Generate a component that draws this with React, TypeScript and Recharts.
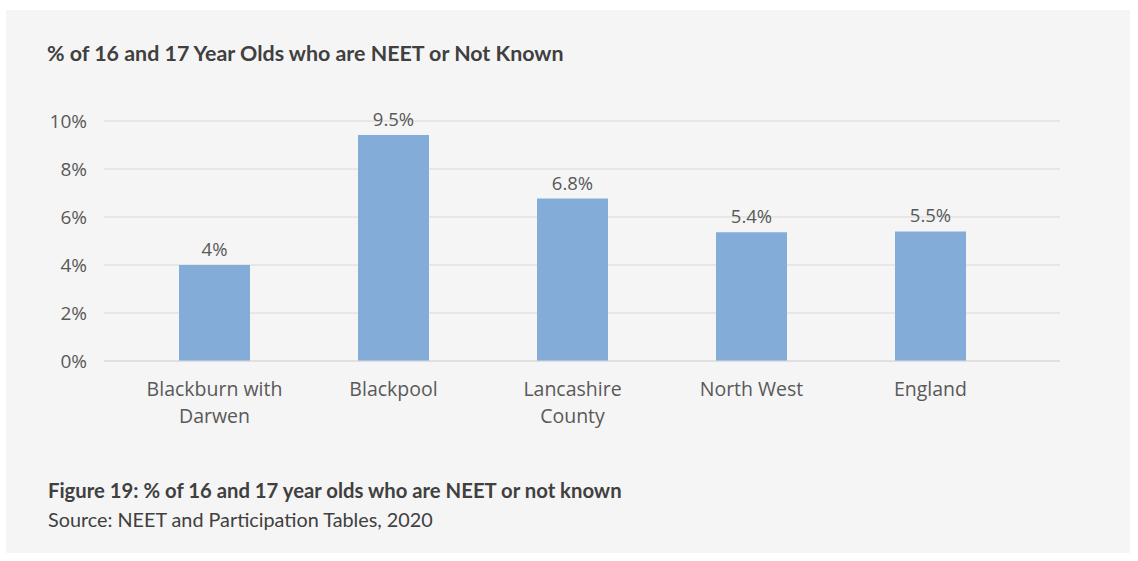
import { BarChart, Bar, XAxis, YAxis, CartesianGrid, LabelList } from "recharts"

const CATEGORIES = ["Blackburn with Darwen", "Blackpool", "Lancashire County", "North West", "England"]
// bar heights
const VALUES = [4.0, 9.42, 6.77, 5.36, 5.4]
// the printed labels
const LABELS = ["4%", "9.5%", "6.8%", "5.4%", "5.5%"]
const Y_TICKS = [0, 2, 4, 6, 8, 10]

const data = CATEGORIES.map((name, i) => ({ name, value: VALUES[i], label: LABELS[i] }))

const TEXT = "#595959"
const TICK_FONT = "'Open Sans', sans-serif"
const HEAD_FONT = "Lato, sans-serif"

function wrap(s: string, max = 14) {
  const lines: string[] = []
  let cur = ""
  for (const w of s.split(" ")) {
    const next = cur ? cur + " " + w : w
    if (next.length > max && cur) {
      lines.push(cur)
      cur = w
    } else {
      cur = next
    }
  }
  if (cur) lines.push(cur)
  return lines
}

function CategoryTick(props: any) {
  const { x, y, payload } = props
  const lines = wrap(payload.value)
  return (
    <text x={x} y={y} textAnchor="middle" fill={TEXT} fontSize={19.5} fontFamily={TICK_FONT}>
      {lines.map((l, i) => (
        <tspan key={i} x={x} dy={i === 0 ? 27 : 27}>
          {l}
        </tspan>
      ))}
    </text>
  )
}

export default function App() {
  return (
    <div style={{ position: "absolute", left: 0, top: 0, width: 1138, height: 561, background: "#fff" }}>
      <div style={{ position: "absolute", left: 6, top: 10, width: 1124, height: 543, background: "#f5f5f5" }} />
      <div
        style={{
          position: "absolute",
          left: 47,
          top: 40,
          fontFamily: HEAD_FONT,
          fontWeight: 700,
          fontSize: 21.4,
          lineHeight: "26px",
          color: "#404040",
          whiteSpace: "nowrap",
        }}
      >
        % of 16 and 17 Year Olds who are NEET or Not Known
      </div>
      <div style={{ position: "absolute", left: 0, top: 0 }}>
        <BarChart
          width={1138}
          height={561}
          data={data}
          margin={{ top: 121, right: 78, bottom: 140, left: 44 }}
        >
          <CartesianGrid vertical={false} stroke="#d9d9d9" strokeWidth={1} />
          <XAxis
            dataKey="name"
            axisLine={{ stroke: "#d9d9d9" }}
            tickLine={false}
            tick={<CategoryTick />}
            interval={0}
            height={60}
            padding={{ left: 21, right: 40 }}
          />
          <YAxis
            domain={[0, 10]}
            ticks={Y_TICKS}
            tickFormatter={(v) => `${v}%`}
            axisLine={false}
            tickLine={false}
            tickMargin={11}
            width={60}
            tick={{ fill: TEXT, fontSize: 19, fontFamily: TICK_FONT }}
          />
          <Bar dataKey="value" fill="#83acd8" barSize={71} isAnimationActive={false}>
            <LabelList
              dataKey="label"
              position="top"
              offset={9}
              fill={TEXT}
              fontSize={18.5}
              fontFamily={TICK_FONT}
            />
          </Bar>
        </BarChart>
      </div>
      <div
        style={{
          position: "absolute",
          left: 48,
          top: 476,
          fontFamily: HEAD_FONT,
          color: "#404040",
          lineHeight: "29px",
          whiteSpace: "nowrap",
        }}
      >
        <div style={{ fontWeight: 700, fontSize: 20.3 }}>
          Figure 19: % of 16 and 17 year olds who are NEET or not known
        </div>
        <div style={{ fontSize: 19.8 }}>Source: NEET and Participation Tables, 2020</div>
      </div>
    </div>
  )
}
